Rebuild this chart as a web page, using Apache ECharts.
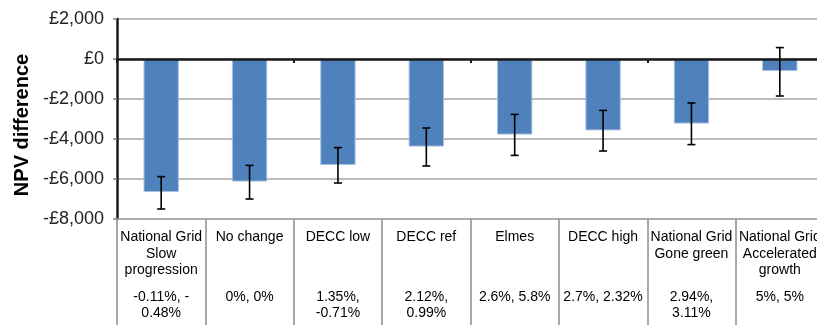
<!DOCTYPE html>
<html>
<head>
<meta charset="utf-8">
<script src="https://cdn.jsdelivr.net/npm/echarts@6/dist/echarts.min.js"></script>
<style>
  html, body { margin: 0; padding: 0; background: #fff; overflow: hidden; }
  /* the plot runs slightly past the right edge of the page */
  #chart { width: 824px; height: 325px; }
</style>
</head>
<body>
<div id="chart"></div>
<script>
// Scenario names and their growth assumptions (shown in the table under the axis)
const categories = [
  'National Grid\nSlow\nprogression',
  'No change',
  'DECC low',
  'DECC ref',
  'Elmes',
  'DECC high',
  'National Grid\nGone green',
  'National Grid\nAccelerated\ngrowth'
];
const growth = [
  '-0.11%, -\n0.48%',
  '0%, 0%',
  '1.35%,\n-0.71%',
  '2.12%,\n0.99%',
  '2.6%, 5.8%',
  '2.7%, 2.32%',
  '2.94%,\n3.11%',
  '5%, 5%'
];

// NPV difference per scenario (£) with error range
const npv     = [-6650, -6130, -5300, -4380, -3780, -3570, -3230, -600];
const errHigh = [-5880, -5320, -4430, -3450, -2770, -2570, -2200, 570];
const errLow  = [-7500, -7000, -6200, -5350, -4820, -4600, -4280, -1850];

// Value axis ticks
const yTicks = [-8000, -6000, -4000, -2000, 0, 2000];
const yTickLabels = ['-£8,000', '-£6,000', '-£4,000', '-£2,000', '£0', '£2,000'];

const FONT = '"Liberation Sans", Arial, sans-serif';

function tableLabel(value, index) {
  const nameLines = categories[index].split('\n');
  while (nameLines.length < 3) nameLines.push(' ');
  const pctLines = growth[index].split('\n');
  return nameLines.map(s => '{t|' + s + '}')
    .concat(['{g| }'])
    .concat(pctLines.map(s => '{t|' + s + '}'))
    .join('\n');
}

const chart = echarts.init(document.getElementById('chart'), null, { renderer: 'canvas' });

chart.setOption({
  animation: false,
  backgroundColor: '#ffffff',
  grid: { left: 117, right: 0, top: 19, bottom: 106, containLabel: false },
  xAxis: [
    {
      // category axis crossing at zero
      type: 'category',
      data: categories,
      position: 'bottom',
      z: 5,
      axisLine: { onZero: true, lineStyle: { color: '#1a1a1a', width: 2.5 } },
      axisTick: { show: true, length: 4, lineStyle: { color: '#1a1a1a', width: 2 } },
      axisLabel: { show: false },
      splitLine: { show: false }
    },
    {
      // table of scenario names and growth rates under the plot
      type: 'category',
      data: categories,
      position: 'bottom',
      axisLine: { onZero: false, show: true, lineStyle: { color: '#a6a6a6', width: 1.5 } },
      axisTick: { show: true, length: 120, lineStyle: { color: '#8c8c8c', width: 1.5 } },
      axisLabel: {
        interval: 0,
        margin: 10,
        formatter: tableLabel,
        rich: {
          t: { fontFamily: FONT, fontSize: 14, lineHeight: 16.5, color: '#000' },
          g: { fontFamily: FONT, fontSize: 4, lineHeight: 10 }
        }
      },
      splitLine: { show: false }
    }
  ],
  yAxis: {
    type: 'value',
    min: -8000,
    max: 2000,
    interval: 2000,
    name: 'NPV difference',
    nameLocation: 'middle',
    nameGap: 80,
    nameTextStyle: {
      fontFamily: FONT, fontSize: 20, fontWeight: 'bold', color: '#000',
      padding: [0, 12, 0, 0]
    },
    axisLine: { show: true, lineStyle: { color: '#1a1a1a', width: 2.5 } },
    axisTick: { show: true, length: 4, lineStyle: { color: '#7f7f7f', width: 1.5 } },
    axisLabel: {
      margin: 13,
      fontFamily: FONT,
      fontSize: 18,
      color: '#222',
      formatter: v => yTickLabels[yTicks.indexOf(v)]
    },
    splitLine: { lineStyle: { color: '#a6a6a6', width: 1.5 } }
  },
  series: [
    {
      type: 'bar',
      xAxisIndex: 0,
      data: npv,
      barWidth: '40%',
      itemStyle: { color: '#4f81bd', borderColor: '#a9c1e0', borderWidth: 1 },
      z: 2
    },
    {
      type: 'custom',
      xAxisIndex: 0,
      z: 6,
      data: categories.map((c, i) => [i, errHigh[i], errLow[i]]),
      encode: { x: 0, y: [1, 2] },
      renderItem: function (params, api) {
        const top = api.coord([api.value(0), api.value(1)]);
        const bot = api.coord([api.value(0), api.value(2)]);
        const hw = 4;
        const style = { stroke: '#000', lineWidth: 1.6 };
        return {
          type: 'group',
          children: [
            { type: 'line', shape: { x1: top[0], y1: top[1], x2: bot[0], y2: bot[1] }, style },
            { type: 'line', shape: { x1: top[0] - hw, y1: top[1], x2: top[0] + hw, y2: top[1] }, style },
            { type: 'line', shape: { x1: bot[0] - hw, y1: bot[1], x2: bot[0] + hw, y2: bot[1] }, style }
          ]
        };
      }
    }
  ]
});
</script>
</body>
</html>
